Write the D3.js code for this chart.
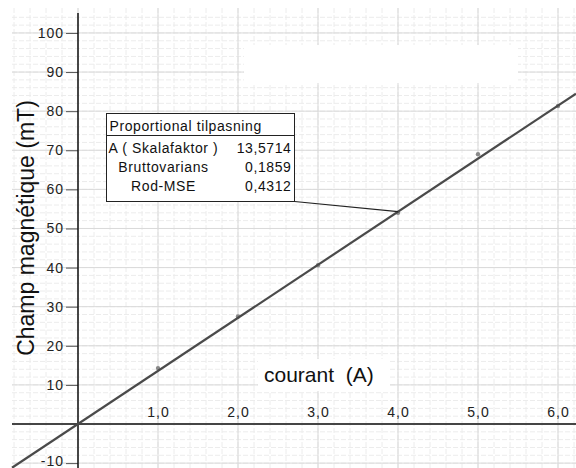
<!DOCTYPE html>
<html>
<head>
<meta charset="utf-8">
<script src="https://cdn.jsdelivr.net/npm/d3@7"></script>
<style>
  body { margin: 0; background: #fff; }
  svg { display: block; }
</style>
</head>
<body>
<div id="chart"></div>
<script>
// measured points: current (A) vs field (mT)
const currents = [1, 2, 3, 4, 5, 6];
const fields = [14.3, 27.5, 40.6, 54.0, 69.0, 81.3];
const slope = 13.5714;

const xTicks = [1, 2, 3, 4, 5, 6];
const yTicks = [-10, 10, 20, 30, 40, 50, 60, 70, 80, 90, 100];

const fitTitle = "Proportional tilpasning";
const fitLabels = ["A ( Skalafaktor )", "Bruttovarians", "Rod-MSE"];
const fitValues = ["13,5714", "0,1859", "0,4312"];

const width = 576, height = 468;
const font = "'Liberation Sans', Arial, sans-serif";

const svg = d3.select("#chart").append("svg")
    .attr("width", width)
    .attr("height", height);

svg.append("rect").attr("width", width).attr("height", height).attr("fill", "white");

const x = d3.scaleLinear().domain([-0.825, 6.225]).range([12, 576]);
const y = d3.scaleLinear().domain([-11.25, 105.1]).range([468, 13]);

const commaFmt = d3.formatLocale({decimal: ",", thousands: " ", grouping: [3], currency: ["", ""]}).format(".1f");

// grid
const grid = svg.append("g");
grid.selectAll(".vminor")
  .data(d3.range(-4, 32).map(i => i * 0.2))
  .enter().append("line")
    .attr("x1", d => x(d)).attr("x2", d => x(d))
    .attr("y1", 8).attr("y2", height)
    .attr("stroke", "#ececec").attr("stroke-dasharray", "5,2");
grid.selectAll(".hminor")
  .data(d3.range(-5, 53).map(i => i * 2))
  .enter().append("line")
    .attr("x1", 12).attr("x2", width)
    .attr("y1", d => y(d)).attr("y2", d => y(d))
    .attr("stroke", "#ececec").attr("stroke-dasharray", "5,2");
grid.selectAll(".vmajor")
  .data(d3.range(0, 7))
  .enter().append("line")
    .attr("x1", d => x(d)).attr("x2", d => x(d))
    .attr("y1", 8).attr("y2", height)
    .attr("stroke", "#d9d9d9");
grid.selectAll(".hmajor")
  .data(d3.range(-10, 110, 10))
  .enter().append("line")
    .attr("x1", 12).attr("x2", width)
    .attr("y1", d => y(d)).attr("y2", d => y(d))
    .attr("stroke", "#d9d9d9");

// white blank areas (title slot and x label background)
svg.append("rect").attr("x", 244).attr("y", 45).attr("width", 274).attr("height", 38).attr("fill", "white");
svg.append("rect").attr("x", 258).attr("y", 359).attr("width", 132).attr("height", 32).attr("fill", "white");

// x axis
svg.append("line")
    .attr("x1", 12).attr("x2", width)
    .attr("y1", y(0)).attr("y2", y(0))
    .attr("stroke", "#454545").attr("stroke-width", 2);

svg.append("g")
    .attr("transform", `translate(0,${y(0)})`)
    .call(d3.axisTop(x).tickValues(xTicks).tickSize(0).tickPadding(7).tickFormat(commaFmt))
    .call(g => g.select(".domain").remove())
    .selectAll("text")
    .style("font", `14px ${font}`)
    .style("letter-spacing", "1px")
    .attr("fill", "#222");

// y axis
svg.append("g")
    .attr("transform", `translate(${x(0)},0)`)
    .call(d3.axisLeft(y).tickValues(yTicks).tickSize(12).tickPadding(2).tickFormat(d => String(d)))
    .call(g => g.select(".domain").remove())
    .call(g => g.selectAll(".tick line").attr("stroke", "#555"))
    .selectAll("text")
    .style("font", `14px ${font}`)
    .style("letter-spacing", "1px")
    .attr("dy", d => d < 0 ? "0.2em" : "0.32em")
    .attr("fill", "#222");

svg.append("line")
    .attr("x1", x(0)).attr("x2", x(0))
    .attr("y1", 13).attr("y2", height)
    .attr("stroke", "#111").attr("stroke-width", 1.5);

// data points
svg.selectAll(".pt")
  .data(currents)
  .enter().append("circle")
    .attr("cx", d => x(d))
    .attr("cy", (d, i) => y(fields[i]))
    .attr("r", 2.2)
    .attr("fill", "#8a8a8a");

// proportional fit
const xd = x.domain();
svg.append("line")
    .attr("x1", x(xd[0])).attr("y1", y(slope * xd[0]))
    .attr("x2", x(xd[1])).attr("y2", y(slope * xd[1]))
    .attr("stroke", "#4a4a4a").attr("stroke-width", 2.2);

// fit info box
const box = {x: 106.5, y: 113.5, w: 188, h: 88};
svg.append("line")
    .attr("x1", box.x + box.w).attr("y1", box.y + box.h)
    .attr("x2", x(4)).attr("y2", y(slope * 4))
    .attr("stroke", "#222").attr("stroke-width", 1.2);

svg.append("rect")
    .attr("x", box.x).attr("y", box.y).attr("width", box.w).attr("height", box.h)
    .attr("fill", "white").attr("stroke", "#222");
svg.append("line")
    .attr("x1", box.x).attr("x2", box.x + box.w)
    .attr("y1", box.y + 22).attr("y2", box.y + 22)
    .attr("stroke", "#222");

const boxFont = `14px ${font}`;
svg.append("text")
    .attr("x", box.x + 3).attr("y", box.y + 17)
    .style("font", boxFont).style("letter-spacing", "0.6px").attr("fill", "#111")
    .text(fitTitle);

fitLabels.forEach((lab, i) => {
  const by = box.y + 39 + i * 19;
  svg.append("text")
    .attr("x", box.x + 57).attr("y", by)
    .attr("text-anchor", "middle")
    .style("font", boxFont).style("letter-spacing", "0.6px").attr("fill", "#111")
    .text(lab);
  svg.append("text")
    .attr("x", box.x + box.w - 3).attr("y", by)
    .attr("text-anchor", "end")
    .style("font", boxFont).style("letter-spacing", "0.6px").attr("fill", "#111")
    .text(fitValues[i]);
});

// axis titles
svg.append("text")
    .attr("x", 264).attr("y", 382)
    .style("font", `21px ${font}`).attr("fill", "#111")
    .attr("xml:space", "preserve")
    .text("courant  (A)");

svg.append("text")
    .attr("transform", "translate(34,228) rotate(-90)")
    .attr("text-anchor", "middle")
    .style("font", `23px ${font}`).attr("fill", "#111")
    .text("Champ magnétique (mT)");
</script>
</body>
</html>
